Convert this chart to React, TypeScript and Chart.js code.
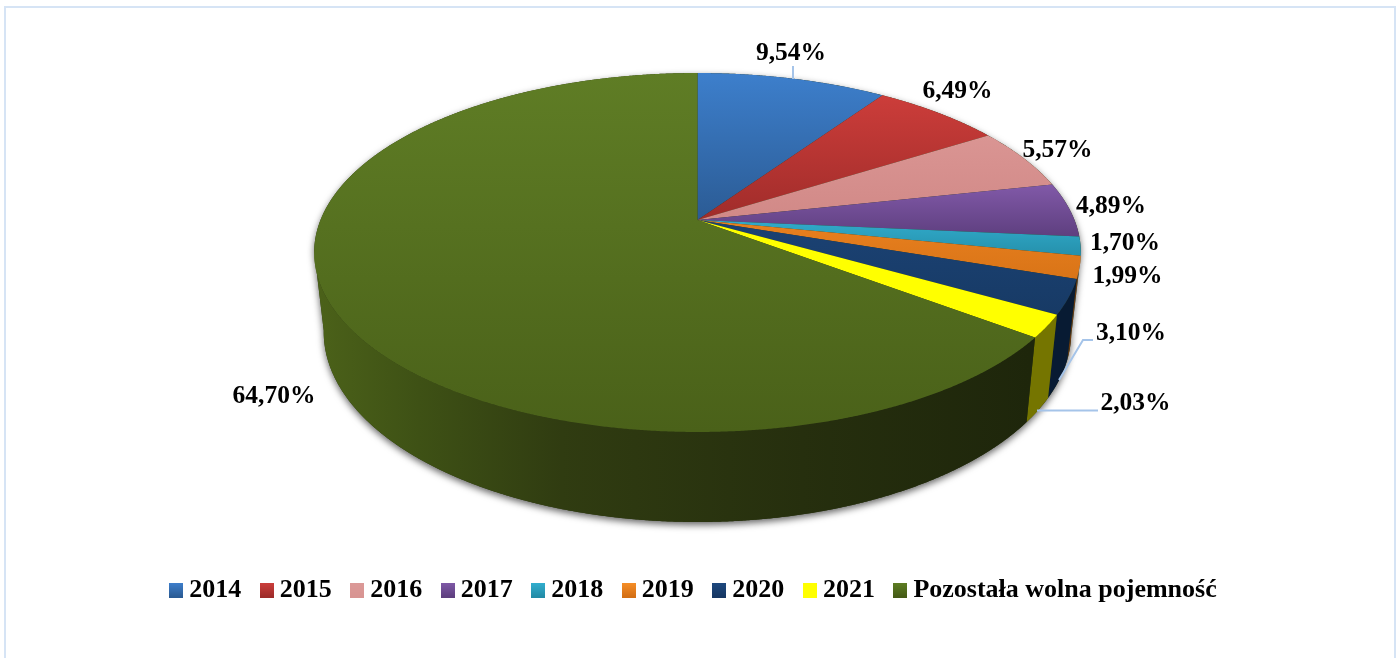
import React, { useEffect, useRef } from "react";
import { Chart, registerables } from "chart.js";

Chart.register(...registerables);

const categories = ["2014", "2015", "2016", "2017", "2018", "2019", "2020", "2021", "Pozostała wolna pojemność"];
const shares = [9.54, 6.49, 5.57, 4.89, 1.7, 1.99, 3.1, 2.03, 64.7];

// Appearance tables
const topGradients = [
  ["#3d7fcc", "#2b5b94"],
  ["#cc3d3a", "#a02c2a"],
  ["#da9593", "#d18987"],
  ["#8159a8", "#5e3f7f"],
  ["#31abcb", "#2590ab"],
  ["#e8801f", "#d97417"],
  ["#1b4274", "#173a65"],
  ["#ffff00", "#ffff00"],
  ["#5f7d25", "#4a6119"],
];
const wallColors = ["#2b5b94", "#7a2523", "#9a6665", "#43305c", "#1b6a7f", "#6a3a10", "#081b33", "#757500", "#2a3510"];
const legendGradients = [
  ["#3f80cd", "#2a5a92"],
  ["#cd3f3c", "#9c2b29"],
  ["#dc9a98", "#d89492"],
  ["#805aa8", "#5d3e7e"],
  ["#33b0d0", "#228aa5"],
  ["#f78f28", "#d26e14"],
  ["#1f4a80", "#163762"],
  ["#ffff00", "#ffff00"],
  ["#5f7f24", "#445a15"],
];
const labelCentres = [
  [791, 53.5], [957.5, 91.5], [1057.5, 150.5], [1111, 206.5], [1125, 243.5],
  [1127.5, 276.5], [1131, 333.5], [1135.5, 403.5], [274, 396.5],
];
const leaderLines = [
  [[793, 66], [793, 79]],
  [[1059, 380], [1083, 340], [1093, 340]],
  [[1037, 410.5], [1098, 410.5]],
];

const TOP_PLANE = { cx: 697.5, cy: 220, a: 173.6, b: 377, k: 0.181 };
const BOTTOM_PLANE = { cx: 697.5, cy: 297.6, a: 183.8, b: 367.6, k: 0.181 };
const WALL_FROM = (100 * Math.PI) / 180;
const WALL_TO = (260 * Math.PI) / 180;
const SERIF = '"Liberation Serif"';

type Plane = typeof TOP_PLANE;

function project(theta: number, p: Plane): [number, number] {
  const u = Math.sin(theta);
  const v = Math.cos(theta);
  const w = 1 + p.k * v;
  return [p.cx + (p.b * u) / w, p.cy - (p.a * v) / w];
}

function arcPoints(from: number, to: number, p: Plane) {
  const n = Math.max(2, Math.ceil(Math.abs(to - from) / 0.004));
  const pts: [number, number][] = [];
  for (let i = 0; i <= n; i++) pts.push(project(from + ((to - from) * i) / n, p));
  return pts;
}

function tracePath(ctx: CanvasRenderingContext2D, pts: [number, number][]) {
  ctx.beginPath();
  pts.forEach(([x, y], i) => (i ? ctx.lineTo(x, y) : ctx.moveTo(x, y)));
  ctx.closePath();
}

function legendSwatch(colors: string[]) {
  const c = document.createElement("canvas");
  c.width = 14;
  c.height = 15;
  const g = c.getContext("2d")!;
  const grad = g.createLinearGradient(0, 0, 0, 15);
  grad.addColorStop(0, colors[0]);
  grad.addColorStop(1, colors[1]);
  g.fillStyle = grad;
  g.fillRect(0, 0, 14, 15);
  return c;
}

const pie3d = {
  id: "pie3d",
  beforeDatasetDraw(chart: any) {
    const ctx: CanvasRenderingContext2D = chart.ctx;
    const arcs = chart.getDatasetMeta(0).data;
    const angle = (a: number) => a + Math.PI / 2;
    ctx.save();

    // soft shadow under the solid
    const silhouette = [...arcPoints(WALL_FROM, WALL_TO, BOTTOM_PLANE)];
    ctx.save();
    ctx.shadowColor = "rgba(0,0,0,0.6)";
    ctx.shadowBlur = 7;
    ctx.shadowOffsetY = 3;
    ctx.fillStyle = "#2a3510";
    tracePath(ctx, [...silhouette, ...arcPoints(WALL_TO, WALL_FROM + 2 * Math.PI, TOP_PLANE)]);
    ctx.fill();
    ctx.restore();

    // side wall
    arcs.forEach((arc: any, i: number) => {
      const from = Math.max(angle(arc.startAngle), WALL_FROM);
      const to = Math.min(angle(arc.endAngle), WALL_TO);
      if (to <= from) return;
      const pts = [...arcPoints(from, to, TOP_PLANE), ...arcPoints(to, from, BOTTOM_PLANE)];
      tracePath(ctx, pts);
      if (i === arcs.length - 1) {
        const g = ctx.createLinearGradient(320, 0, 1030, 0);
        g.addColorStop(0, "#4b6119");
        g.addColorStop(0.14, "#3e5115");
        g.addColorStop(0.34, "#303c11");
        g.addColorStop(0.68, "#262f0e");
        g.addColorStop(1, "#1e260b");
        ctx.fillStyle = g;
      } else {
        ctx.fillStyle = wallColors[i];
      }
      ctx.fill();
    });

    // top face, on top of the walls
    arcs.forEach((arc: any, i: number) => {
      const from = angle(arc.startAngle);
      const to = angle(arc.endAngle);
      const pts: [number, number][] = [[TOP_PLANE.cx, TOP_PLANE.cy], ...arcPoints(from, to, TOP_PLANE)];
      const ys = pts.map((p) => p[1]);
      const [c0, c1] = topGradients[i];
      const g = ctx.createLinearGradient(0, Math.min(...ys), 0, Math.max(...ys));
      g.addColorStop(0, c0);
      g.addColorStop(1, c1);
      tracePath(ctx, pts);
      ctx.fillStyle = g;
      ctx.fill();
    });

    // leader lines
    ctx.strokeStyle = "#a5c4e9";
    ctx.lineWidth = 2;
    leaderLines.forEach((line) => {
      ctx.beginPath();
      line.forEach(([x, y], i) => (i ? ctx.lineTo(x, y) : ctx.moveTo(x, y)));
      ctx.stroke();
    });

    // value labels
    ctx.fillStyle = "#000";
    ctx.font = `bold 25.5px ${SERIF}`;
    ctx.textAlign = "center";
    ctx.textBaseline = "middle";
    shares.forEach((s, i) => {
      const [x, y] = labelCentres[i];
      ctx.fillText(`${s.toFixed(2).replace(".", ",")}%`, x, y);
    });
    ctx.restore();
    return false;
  },
};

export default function App() {
  const ref = useRef<HTMLCanvasElement>(null);
  useEffect(() => {
    const chart = new Chart(ref.current!, {
      type: "pie",
      data: {
        labels: categories,
        datasets: [{ data: shares, backgroundColor: topGradients.map((c) => c[0]), borderWidth: 0 }],
      },
      options: {
        animation: false,
        responsive: false,
        layout: { padding: { bottom: 45, right: 5 } },
        plugins: {
          tooltip: { enabled: false },
          legend: {
            position: "bottom",
            labels: {
              usePointStyle: true,
              pointStyleWidth: 0.01,
              padding: 25.5,
              color: "#000",
              font: { family: SERIF, size: 26, weight: "bold" },
              generateLabels: () =>
                categories.map((text, i) => ({
                  text,
                  fillStyle: legendGradients[i][0],
                  strokeStyle: "transparent",
                  lineWidth: 0,
                  pointStyle: legendSwatch(legendGradients[i]),
                  datasetIndex: 0,
                  index: i,
                })),
            },
          },
        },
      } as any,
      plugins: [pie3d as any],
    });
    return () => chart.destroy();
  }, []);
  return (
    <div style={{ position: "fixed", inset: 0, overflow: "hidden", background: "#fff" }}>
      <div
        style={{
          position: "absolute",
          left: 4,
          top: 6,
          width: 1388,
          height: 700,
          border: "2px solid #d6e4f5",
        }}
      />
      <canvas
        ref={ref}
        width={1398}
        height={658}
        style={{ position: "absolute", left: 0, top: 0, width: 1398, height: 658, filter: "blur(0.6px)" }}
      />
    </div>
  );
}
